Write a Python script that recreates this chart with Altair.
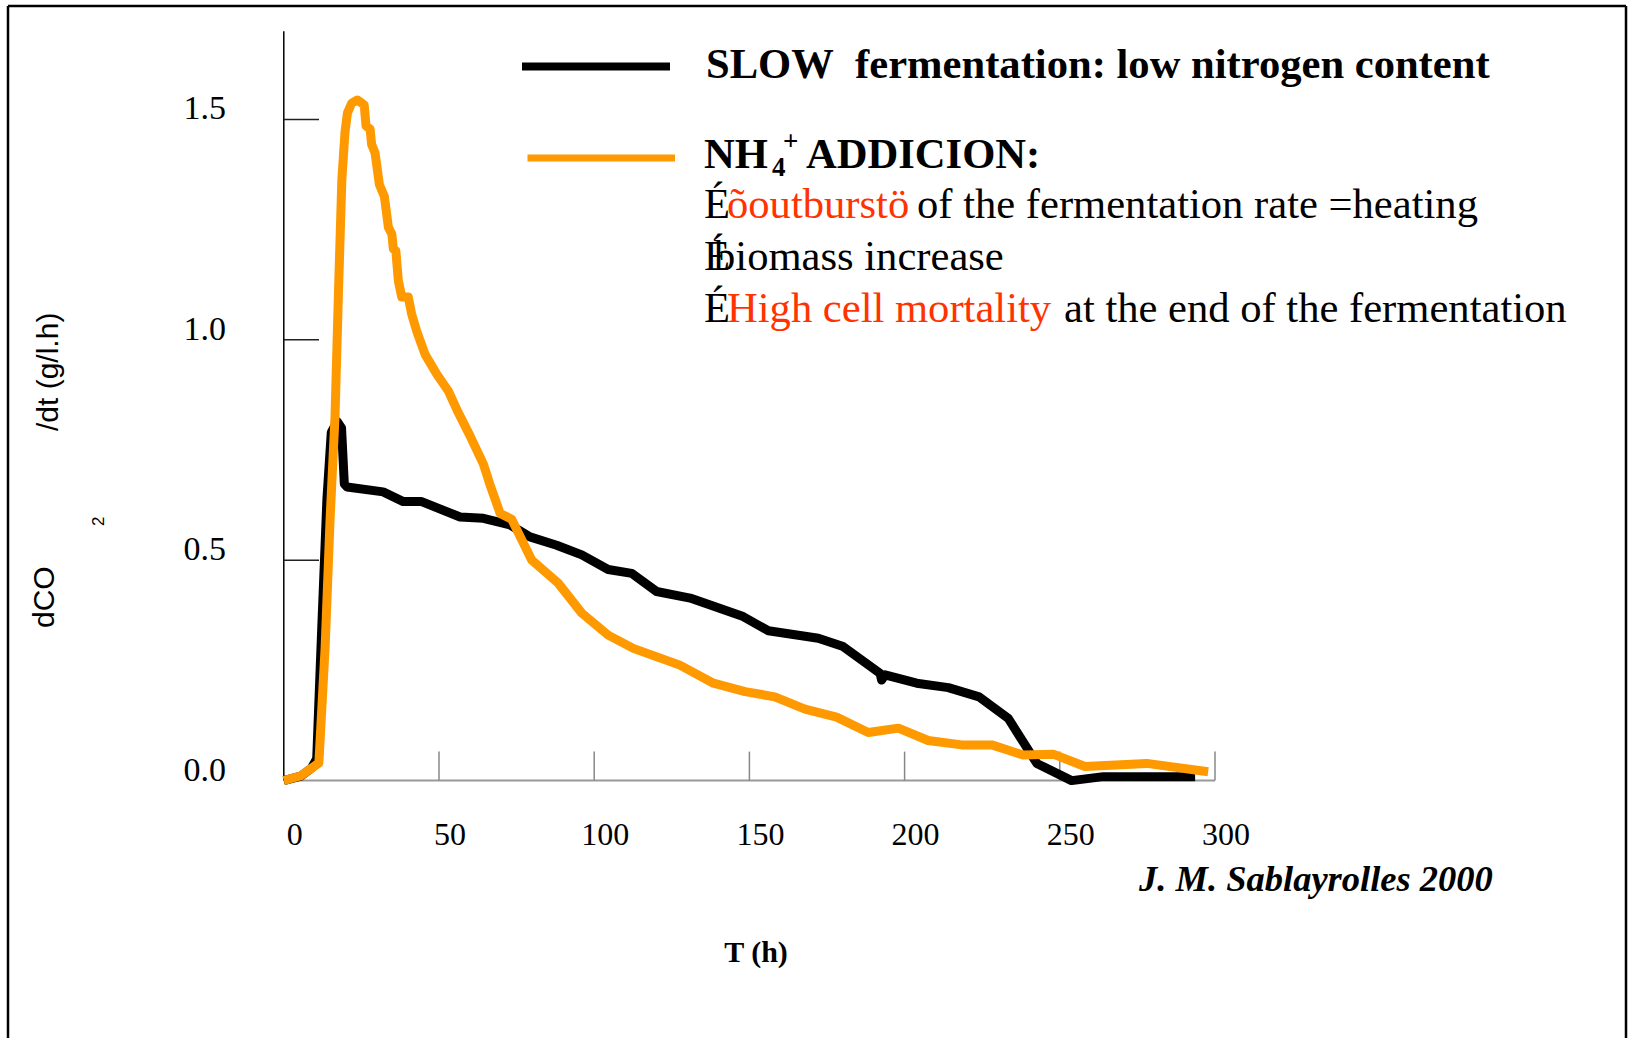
import altair as alt
import pandas as pd

# ---------------- data ----------------
slow_t = [0, 5.5, 8.9, 10.6, 12.3, 13.9, 15.3, 17.2, 18.6, 19.5, 20.4, 32.0, 38.5, 44.4,
          56.8, 64.3, 72.9, 79.3, 87.9, 96.0, 104.5, 112.1, 120.1, 130.9, 148.0, 156.1,
          172.2, 180.2, 192.1, 192.6, 193.7, 203.9, 214.1, 224.0, 233.4, 242.6, 253.8,
          264.0, 293.6]
slow_v = [0.0, 0.01, 0.028, 0.05, 0.36, 0.64, 0.79, 0.815, 0.80, 0.673, 0.666, 0.655,
          0.633, 0.633, 0.598, 0.595, 0.580, 0.553, 0.534, 0.512, 0.479, 0.470, 0.429,
          0.414, 0.372, 0.340, 0.323, 0.304, 0.243, 0.228, 0.240, 0.221, 0.211, 0.190,
          0.141, 0.039, 0.0, 0.009, 0.009]

nh4_t = [0, 5.5, 11.3, 13.3, 14.9, 16.5, 17.6, 18.7, 19.7, 20.5, 21.9, 23.7, 25.9, 26.5,
         27.8, 28.3, 29.4, 30.8, 32.4, 33.7, 34.8, 35.3, 36.1, 36.9, 38.0, 40.1, 41.2,
         42.8, 45.5, 49.3, 53.0, 56.2, 60.0, 64.3, 66.4, 69.7, 73.4, 79.9, 88.4, 96.0,
         104.5, 112.6, 127.6, 138.4, 148.6, 158.2, 167.9, 178.1, 188.3, 198.0, 207.6,
         218.4, 228.1, 238.2, 247.9, 258.1, 278.0, 297.8]
nh4_v = [0.0, 0.011, 0.04, 0.3, 0.591, 0.826, 1.105, 1.363, 1.47, 1.515, 1.537, 1.544,
         1.533, 1.485, 1.478, 1.443, 1.424, 1.352, 1.325, 1.255, 1.240, 1.206, 1.202,
         1.134, 1.097, 1.097, 1.058, 1.020, 0.967, 0.922, 0.884, 0.835, 0.782, 0.718,
         0.672, 0.606, 0.593, 0.500, 0.448, 0.380, 0.330, 0.300, 0.262, 0.221, 0.202,
         0.190, 0.162, 0.144, 0.109, 0.119, 0.091, 0.081, 0.081, 0.058, 0.060, 0.032,
         0.039, 0.020]

x_ticks = [0, 50, 100, 150, 200, 250, 300]
x_tick_labels = ["0", "50", "100", "150", "200", "250", "300"]
y_ticks = [0.0, 0.5, 1.0, 1.5]
y_tick_labels = ["0.0", "0.5", "1.0", "1.5"]

legend_slow = "SLOW\u00a0\u00a0fermentation: low nitrogen content"
legend_nh4_a = "NH"
legend_nh4_sub = "4"
legend_nh4_sup = "+"
legend_nh4_b = "ADDICION:"
bullet = "É"
line2_red = "õoutburstö"
line2_black = "of the fermentation rate =heating"
line3_black = "biomass increase"
line4_red = "High cell mortality"
line4_black = "at the end of the fermentation"
x_title = "T (h)"
y_title_a = "dCO"
y_title_sub = "2"
y_title_b = "/dt (g/l.h)"
credit = "J. M. Sablayrolles 2000"

# ---------------- scales ----------------
XS = alt.Scale(domain=[0, 300], range=[283.8, 1215.0], nice=False, zero=False)
YS = alt.Scale(domain=[0, 1.5], range=[780.6, 119.4], nice=False, zero=False)

SERIF = "Liberation Serif"
SANS = "Liberation Sans"
dummy = pd.DataFrame({"_": [0]})

slow_df = pd.DataFrame({"t": slow_t, "v": slow_v})
nh4_df = pd.DataFrame({"t": nh4_t, "v": nh4_v})
xt_df = pd.DataFrame({"t": x_ticks, "lab": x_tick_labels})
yt_df = pd.DataFrame({"v": y_ticks, "lab": y_tick_labels})


def txt(s, x, y, size, color="black", weight="normal", style="normal", font=SERIF,
        align="left", angle=0, baseline="alphabetic"):
    return alt.Chart(dummy).mark_text(
        text=s, fontSize=size, font=font, fontWeight=weight, fontStyle=style,
        color=color, align=align, baseline=baseline, angle=angle
    ).encode(x=alt.value(x), y=alt.value(y))


def hrule(x1, x2, y, color, w):
    return alt.Chart(dummy).mark_rule(color=color, strokeWidth=w).encode(
        x=alt.value(x1), x2=alt.value(x2), y=alt.value(y))


def vrule(x, y1, y2, color, w):
    return alt.Chart(dummy).mark_rule(color=color, strokeWidth=w).encode(
        x=alt.value(x), y=alt.value(y1), y2=alt.value(y2))


# frame
frame = [hrule(8, 1626, 6, "black", 2.5), vrule(8, 6, 1038, "black", 2.5),
         vrule(1626, 6, 1038, "black", 2.5)]

# axis lines
y_axis_line = alt.Chart(dummy).mark_rule(color="black", strokeWidth=1.5).encode(
    x=alt.X("a:Q", scale=XS, axis=None), y=alt.Y("b:Q", scale=YS, axis=None),
    y2="c:Q").transform_calculate(a="0", b="0", c="1.7")
x_axis_line = alt.Chart(dummy).mark_rule(color="#999999", strokeWidth=2).encode(
    x=alt.X("a:Q", scale=XS, axis=None), x2="c:Q",
    y=alt.Y("b:Q", scale=YS, axis=None)).transform_calculate(a="0", b="0", c="300")

x_tick_marks = alt.Chart(xt_df).transform_filter("datum.t > 0").mark_rule(
    color="#888888", strokeWidth=1.5).encode(
    x=alt.X("t:Q", scale=XS, axis=None), y=alt.value(780.6), y2=alt.value(751.6))
y_tick_marks = alt.Chart(yt_df).transform_filter("datum.v > 0").mark_rule(
    color="#222222", strokeWidth=1.5).encode(
    y=alt.Y("v:Q", scale=YS, axis=None), x=alt.value(284), x2=alt.value(319))

x_labels = alt.Chart(xt_df).mark_text(
    font=SERIF, fontSize=32, align="center", baseline="alphabetic", dx=11,
    color="black").encode(
    x=alt.X("t:Q", scale=XS, axis=None), y=alt.value(845), text="lab:N")
y_labels = alt.Chart(yt_df).mark_text(
    font=SERIF, fontSize=34, align="right", baseline="alphabetic",
    color="black").encode(
    y=alt.Y("v:Q", scale=YS, axis=None), x=alt.value(226), text="lab:N")

line_style = dict(strokeWidth=9, strokeJoin="round", strokeCap="butt")
slow_line = alt.Chart(slow_df).mark_line(color="black", **line_style).encode(
    x=alt.X("t:Q", scale=XS, axis=None), y=alt.Y("v:Q", scale=YS, axis=None))
nh4_line = alt.Chart(nh4_df).mark_line(color="#FF9900", **line_style).encode(
    x=alt.X("t:Q", scale=XS, axis=None), y=alt.Y("v:Q", scale=YS, axis=None))

RED = "#FF3300"
FS = 42.6
texts = [
    hrule(522, 670, 66.5, "black", 8),
    hrule(527.5, 675, 158, "#FF9900", 7),
    txt(legend_slow, 706, 78, FS, weight="bold"),
    txt(legend_nh4_a, 704, 168, FS, weight="bold"),
    txt(legend_nh4_sub, 772, 176, 27, weight="bold"),
    txt(legend_nh4_sup, 783, 150, 27, weight="bold"),
    txt(legend_nh4_b, 806, 168, FS, weight="bold"),
    txt(bullet, 704, 218, FS),
    txt(line2_red, 727, 218, FS, color=RED),
    txt(line2_black, 917, 218, FS),
    txt(bullet, 704, 270, FS),
    txt(line3_black, 714, 270, FS),
    txt(bullet, 704, 322, FS),
    txt(line4_red, 727, 322, FS, color=RED),
    txt(line4_black, 1064, 322, FS),
    txt(x_title, 756, 962, 30, weight="bold", align="center"),
    txt(credit, 1139, 891, 36.5, weight="bold", style="italic"),
    txt(y_title_a, 54, 628, 30, font=SANS, angle=270),
    txt(y_title_sub, 104, 526, 17, font=SANS, angle=270),
    txt(y_title_b, 58, 431, 30, font=SANS, angle=270),
]

chart = alt.layer(
    *frame, x_axis_line, y_axis_line, x_tick_marks, y_tick_marks,
    x_labels, y_labels, slow_line, nh4_line, *texts
).properties(
    width=1628, height=1038, padding=0,
    autosize=alt.AutoSizeParams(type="none"),
    background="white",
).configure_view(stroke=None)

chart.save("out.html", embed_options={"renderer": "svg", "actions": False})
